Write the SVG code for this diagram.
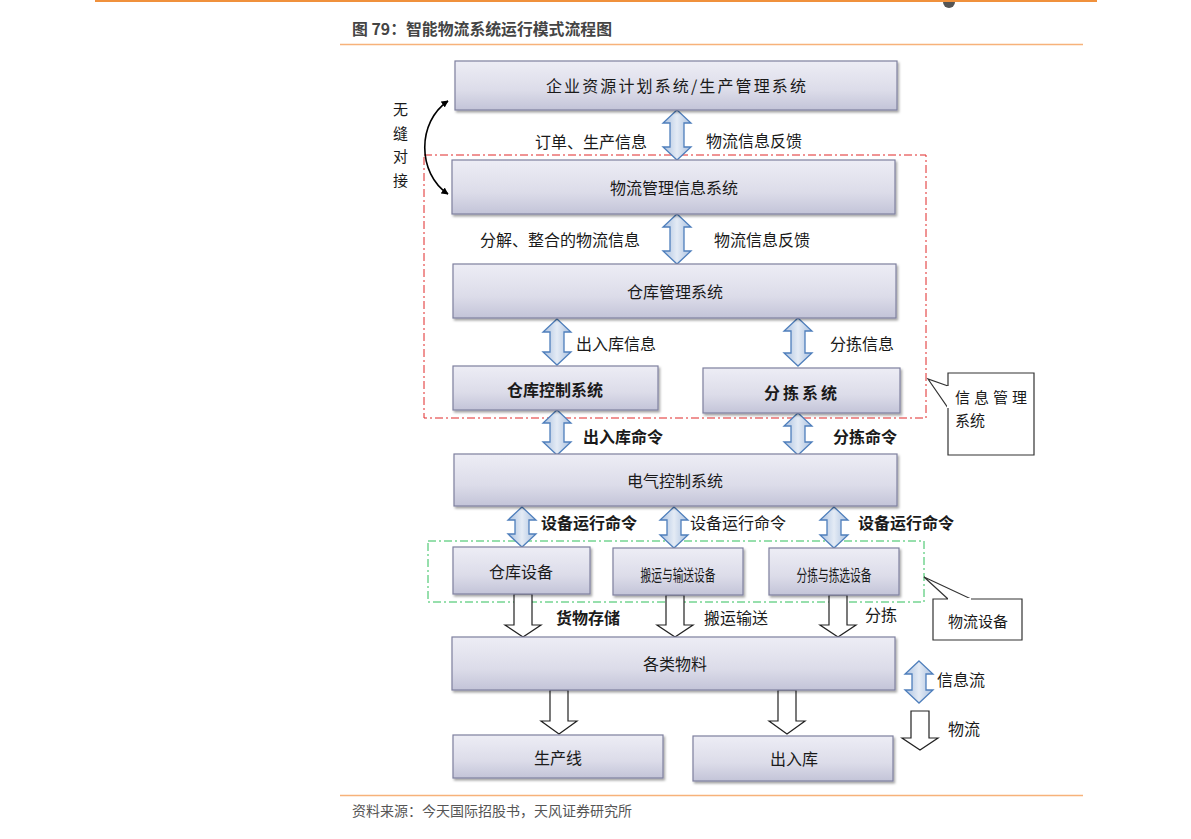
<svg xmlns="http://www.w3.org/2000/svg" width="1191" height="839" viewBox="0 0 1191 839">
<defs>
<linearGradient id="boxg" x1="0" y1="0" x2="0" y2="1">
<stop offset="0" stop-color="#ededf5"/>
<stop offset="0.6" stop-color="#dcdce9"/>
<stop offset="1" stop-color="#c3c4d8"/>
</linearGradient>
<linearGradient id="arrg" x1="0" y1="0" x2="1" y2="0">
<stop offset="0" stop-color="#a9c0df"/>
<stop offset="0.5" stop-color="#e4ebf5"/>
<stop offset="1" stop-color="#a9c0df"/>
</linearGradient>
<filter id="sh" x="-5%" y="-10%" width="110%" height="130%">
<feDropShadow dx="1.5" dy="2" stdDeviation="1.2" flood-color="#000" flood-opacity="0.35"/>
</filter>
<marker id="ah" viewBox="0 0 10 10" refX="9" refY="5" markerWidth="7" markerHeight="7" orient="auto-start-reverse" markerUnits="userSpaceOnUse">
<path d="M0,0 L10,5 L0,10 Z" fill="#000"/>
</marker>
</defs>
<style>
text{font-family:"Noto Sans CJK SC","Noto Sans",sans-serif;fill:#1a1a1a}
.box{fill:url(#boxg);stroke:#7f809f;stroke-width:1.2;filter:url(#sh)}
.bt{font-size:16px;text-anchor:middle;dominant-baseline:central}
.bb{font-weight:bold}
.lb{font-size:16px}
.dbl{fill:url(#arrg);stroke:#4f7fbc;stroke-width:1.3}
.hol{fill:#fff;stroke:#222;stroke-width:1.2}
.call{fill:#fff;stroke:#333;stroke-width:1.2}
</style>

<!-- page frame lines -->
<line x1="95" y1="1" x2="1097" y2="1" stroke="#f0913c" stroke-width="2"/>
<path d="M943,2 A6,6 0 0 0 955,2 Z" fill="#555"/>
<text x="352" y="35" font-size="15.5" font-weight="bold" textLength="260" lengthAdjust="spacingAndGlyphs" style="fill:#444">图 79：智能物流系统运行模式流程图</text>
<line x1="340" y1="44.5" x2="1083" y2="44.5" stroke="#f7b27a" stroke-width="1.5"/>
<line x1="340" y1="795.5" x2="1083" y2="795.5" stroke="#f7b27a" stroke-width="1.5"/>
<text x="352" y="816" font-size="14" textLength="280" lengthAdjust="spacingAndGlyphs" style="fill:#555">资料来源：今天国际招股书，天风证券研究所</text>

<!-- group outlines -->
<rect x="424" y="155" width="502" height="263" fill="none" stroke="#e02828" stroke-width="1" stroke-dasharray="8,3,2,3"/>
<rect x="428" y="541" width="496" height="61" fill="none" stroke="#2fbf5a" stroke-width="1" stroke-dasharray="8,3,2,3"/>

<!-- connectors -->
<g id="connectors">
<path d="M448,101 C417,122 417,173 448,194" fill="none" stroke="#000" stroke-width="1.6" marker-start="url(#ah)" marker-end="url(#ah)"/>
<path class="dbl" d="M677,110 L691,123 L684,123 L684,147 L691,147 L677,160 L663,147 L670,147 L670,123 L663,123 Z"/>
<path class="dbl" d="M677,214 L691,227 L684,227 L684,251 L691,251 L677,264 L663,251 L670,251 L670,227 L663,227 Z"/>
<path class="dbl" d="M557,319 L571,332 L564,332 L564,352 L571,352 L557,365 L543,352 L550,352 L550,332 L543,332 Z"/>
<path class="dbl" d="M798,318 L812,331 L805,331 L805,353 L812,353 L798,366 L784,353 L791,353 L791,331 L784,331 Z"/>
<path class="dbl" d="M557,410 L571,423 L564,423 L564,442 L571,442 L557,455 L543,442 L550,442 L550,423 L543,423 Z"/>
<path class="dbl" d="M798,413 L812,426 L805,426 L805,442 L812,442 L798,455 L784,442 L791,442 L791,426 L784,426 Z"/>
<path class="dbl" d="M522,507 L536,520 L529,520 L529,534 L536,534 L522,547 L508,534 L515,534 L515,520 L508,520 Z"/>
<path class="dbl" d="M674,507 L688,520 L681,520 L681,535 L688,535 L674,548 L660,535 L667,535 L667,520 L660,520 Z"/>
<path class="dbl" d="M834,507 L848,520 L841,520 L841,535 L848,535 L834,548 L820,535 L827,535 L827,520 L820,520 Z"/>
<path class="hol" d="M514,594 L532,594 L532,625 L541,625 L523,637 L505,625 L514,625 Z"/>
<path class="hol" d="M666,595 L684,595 L684,625 L693,625 L675,637 L657,625 L666,625 Z"/>
<path class="hol" d="M829,595 L847,595 L847,625 L856,625 L838,637 L820,625 L829,625 Z"/>
<path class="hol" d="M550,690 L568,690 L568,721 L577,721 L559,734 L541,721 L550,721 Z"/>
<path class="hol" d="M778,690 L796,690 L796,721 L805,721 L787,734 L769,721 L778,721 Z"/>
</g>

<!-- connector labels -->
<text class="lb" x="535" y="148">订单、生产信息</text>
<text class="lb" x="706" y="147">物流信息反馈</text>
<text class="lb" x="480" y="246">分解、整合的物流信息</text>
<text class="lb" x="714" y="246">物流信息反馈</text>
<text class="lb" x="576" y="350">出入库信息</text>
<text class="lb" x="830" y="350">分拣信息</text>
<text class="lb bb" x="583" y="443">出入库命令</text>
<text class="lb bb" x="833" y="443">分拣命令</text>
<text class="lb bb" x="541" y="529">设备运行命令</text>
<text class="lb" x="690" y="529">设备运行命令</text>
<text class="lb bb" x="858" y="529">设备运行命令</text>
<text class="lb bb" x="556" y="624">货物存储</text>
<text class="lb" x="704" y="624">搬运输送</text>
<text class="lb" x="865" y="621">分拣</text>

<!-- seamless -->
<g font-size="15">
<text x="393" y="115">无</text>
<text x="393" y="139">缝</text>
<text x="393" y="162">对</text>
<text x="393" y="186">接</text>
</g>

<!-- nodes -->
<g id="n-erp"><rect class="box" x="455" y="61" width="442" height="49"/><text class="bt" x="676" y="85" font-size="17" textLength="260" lengthAdjust="spacing">企业资源计划系统/生产管理系统</text></g>
<g id="n-lmis"><rect class="box" x="452" y="160" width="443" height="54"/><text class="bt" x="674" y="187">物流管理信息系统</text></g>
<g id="n-wms"><rect class="box" x="453" y="264" width="443" height="54"/><text class="bt" x="675" y="291">仓库管理系统</text></g>
<g id="n-wcs"><rect class="box" x="453" y="366" width="205" height="44"/><text class="bt bb" x="555" y="389" font-size="17">仓库控制系统</text></g>
<g id="n-sort"><rect class="box" x="703" y="368" width="197" height="45"/><text class="bt bb" x="802" y="392" font-size="17" letter-spacing="3">分拣系统</text></g>
<g id="n-elec"><rect class="box" x="454" y="454" width="443" height="52"/><text class="bt" x="675" y="480">电气控制系统</text></g>
<g id="n-whe"><rect class="box" x="453" y="547" width="137" height="47"/><text class="bt" x="521" y="571" font-size="14">仓库设备</text></g>
<g id="n-conv"><rect class="box" x="613" y="548" width="130" height="47"/><text class="bt" x="678" y="574" font-size="12" textLength="75" lengthAdjust="spacingAndGlyphs">搬运与输送设备</text></g>
<g id="n-pick"><rect class="box" x="769" y="548" width="130" height="47"/><text class="bt" x="834" y="574" font-size="12" textLength="75" lengthAdjust="spacingAndGlyphs">分拣与拣选设备</text></g>
<g id="n-mat"><rect class="box" x="452" y="637" width="443" height="53"/><text class="bt" x="675" y="663">各类物料</text></g>
<g id="n-line"><rect class="box" x="453" y="735" width="210" height="43"/><text class="bt" x="558" y="757" font-size="17">生产线</text></g>
<g id="n-io"><rect class="box" x="693" y="736" width="200" height="45"/><text class="bt" x="794" y="758">出入库</text></g>

<!-- callouts -->
<g id="callout-info">
<path class="call" d="M948,386 L928,379 L948,408 L948,455 L1034,455 L1034,373 L948,373 Z"/>
<line x1="948" y1="386" x2="948" y2="408" stroke="#fff" stroke-width="2"/>
<text x="955" y="403" font-size="15" letter-spacing="4">信息管理</text>
<text x="955" y="426" font-size="15">系统</text>
</g>
<g id="callout-equip">
<path class="call" d="M948,599 L924,577 L971,599 L1022,599 L1022,640 L933,640 L933,599 Z"/>
<line x1="948" y1="599" x2="971" y2="599" stroke="#fff" stroke-width="2"/>
<text x="978" y="620" font-size="15" text-anchor="middle" dominant-baseline="central">物流设备</text>
</g>

<!-- legend -->
<g id="legend">
<path class="dbl" d="M919,661 L933,674 L926,674 L926,690 L933,690 L919,703 L905,690 L912,690 L912,674 L905,674 Z"/>
<text class="lb" x="937" y="686">信息流</text>
<path class="hol" d="M911,711 L929,711 L929,738 L938,738 L920,750 L902,738 L911,738 Z"/>
<text class="lb" x="948" y="735">物流</text>
</g>
</svg>
